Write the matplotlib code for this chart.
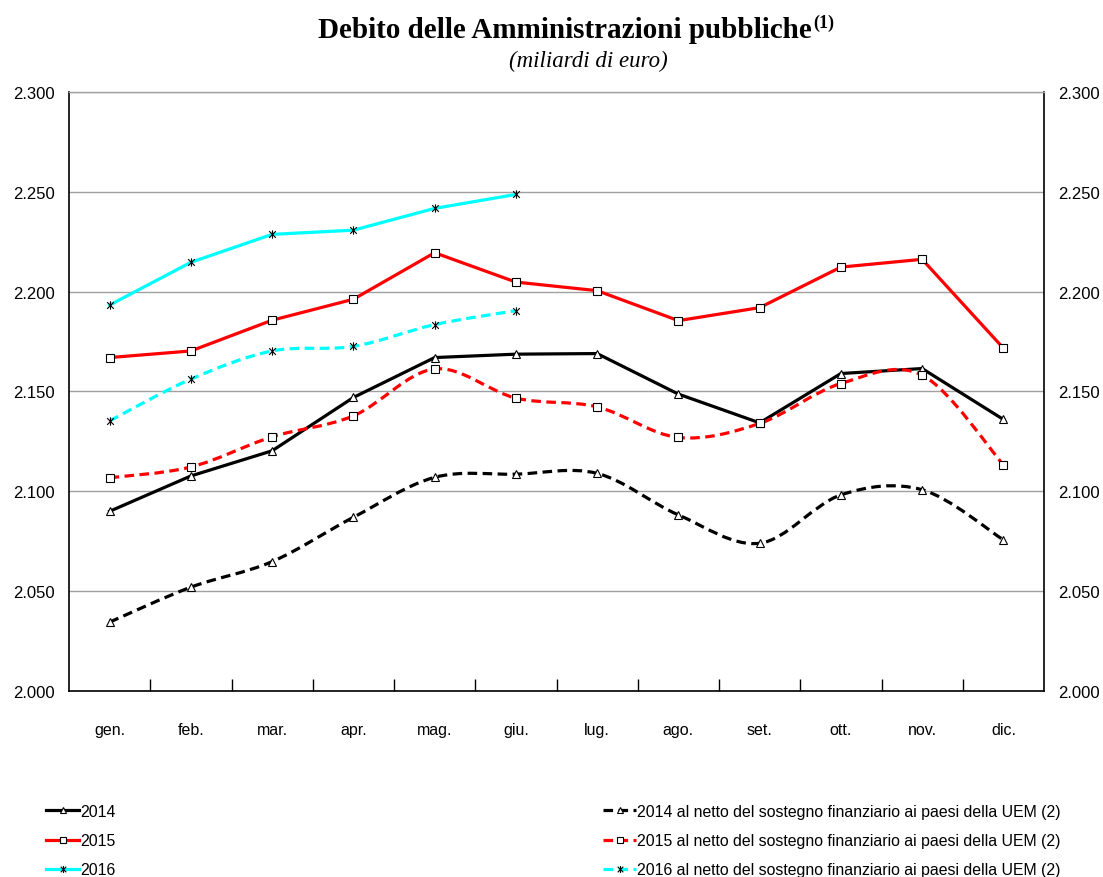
import numpy as np
import matplotlib.pyplot as plt
from matplotlib.path import Path
from matplotlib.patches import PathPatch
from matplotlib.lines import Line2D

plt.rcParams['font.family'] = ['Liberation Sans', 'DejaVu Sans']

# Months and values (billions of euro)
months = ["gen.", "feb.", "mar.", "apr.", "mag.", "giu.",
          "lug.", "ago.", "set.", "ott.", "nov.", "dic."]

debt_2014 = [2090, 2107.7, 2120.3, 2147, 2167, 2168.7,
             2169, 2148.7, 2134.3, 2159, 2161.5, 2136]
debt_2015 = [2167, 2170.3, 2185.7, 2196.2, 2219.5, 2204.8,
             2200.5, 2185.5, 2192, 2212.3, 2216.2, 2171.7]
debt_2016 = [2193.3, 2214.7, 2228.7, 2230.8, 2241.7, 2248.7]

net_2014 = [2034.5, 2052, 2064.8, 2087, 2107, 2108.6,
            2109, 2088.2, 2074, 2098.2, 2100.8, 2075.7]
net_2015 = [2106.8, 2112.2, 2127.3, 2137.8, 2161.3, 2146.7,
            2142.3, 2127, 2134, 2154, 2158.2, 2113.3]
net_2016 = [2135.3, 2156.2, 2170.3, 2172.6, 2183.5, 2190.5]

labels_left = ["2014", "2015", "2016"]
labels_right = [y + " al netto del sostegno finanziario ai paesi della UEM (2)"
                for y in labels_left]

yticks = [2000, 2050, 2100, 2150, 2200, 2250, 2300]
ytick_labels = ["2.000", "2.050", "2.100", "2.150", "2.200", "2.250", "2.300"]

# Excel-like star marker (x with a vertical bar)
star = Path([(0, -1), (0, 1), (-0.8, -0.8), (0.8, 0.8), (-0.8, 0.8), (0.8, -0.8)],
            [Path.MOVETO, Path.LINETO, Path.MOVETO, Path.LINETO, Path.MOVETO, Path.LINETO])


def smooth_path(x, y):
    # Bezier path through the points, like Excel's "smoothed line"
    x = np.asarray(x, float)
    y = np.asarray(y, float)
    n = len(x)
    verts = [(x[0], y[0])]
    codes = [Path.MOVETO]
    for i in range(n - 1):
        x0, y0 = (x[i - 1], y[i - 1]) if i > 0 else (x[i], y[i])
        x3, y3 = (x[i + 2], y[i + 2]) if i + 2 < n else (x[i + 1], y[i + 1])
        c1 = (x[i] + (x[i + 1] - x0) / 6, y[i] + (y[i + 1] - y0) / 6)
        c2 = (x[i + 1] - (x3 - x[i]) / 6, y[i + 1] - (y3 - y[i]) / 6)
        verts += [c1, c2, (x[i + 1], y[i + 1])]
        codes += [Path.CURVE4] * 3
    return Path(verts, codes)


fig = plt.figure(figsize=(11.03, 8.78), dpi=100)
ax = fig.add_axes([69 / 1103, 186 / 878, 975 / 1103, 599 / 878])

x = np.arange(len(months))
lw = 2.3
dash = (0, (3, 1.7))

series = [
    (debt_2014, net_2014, "black", "^", 5.5),
    (debt_2015, net_2015, "red", "s", 5.5),
    (debt_2016, net_2016, "cyan", star, 6),
]

handles_l, handles_r = [], []
for debt, net, col, mk, ms in series:
    xs = x[:len(debt)]
    mfc = "none" if mk is star else "white"
    ax.plot(xs, debt, color=col, lw=lw, zorder=3)
    ax.plot(xs, debt, ls="none", marker=mk, ms=ms, mfc=mfc, mec="black",
            mew=0.8, zorder=5)
    xn = x[:len(net)]
    ax.add_patch(PathPatch(smooth_path(xn, net), facecolor="none",
                           edgecolor=col, lw=lw, linestyle=dash, zorder=3))
    ax.plot(xn, net, ls="none", marker=mk, ms=ms, mfc=mfc, mec="black",
            mew=0.8, zorder=5)
    handles_l.append(Line2D([], [], color=col, lw=lw, marker=mk, ms=ms - 1,
                            mfc=mfc, mec="black", mew=0.8))
    handles_r.append(Line2D([], [], color=col, lw=lw, ls=dash, marker=mk,
                            ms=ms - 1, mfc=mfc, mec="black", mew=0.8))

ax.set_xlim(-0.5, 11.5)
ax.set_ylim(2000, 2300)
ax.set_yticks(yticks)
ax.set_yticklabels(ytick_labels)
ax.tick_params(axis="y", length=0, labelsize=12, pad=10,
               labelright=True, right=False)
ax.yaxis.grid(True, color="#a0a0a0", lw=1)
ax.set_axisbelow(True)

ax.set_xticks(x)
ax.set_xticklabels(months, fontsize=11.5)
ax.tick_params(axis="x", length=0, pad=22)
ax.set_xticks(x[:-1] + 0.5, minor=True)
ax.tick_params(axis="x", which="minor", direction="in", length=9,
               width=1, color="black")

for s in ["left", "right", "bottom"]:
    ax.spines[s].set_color("black")
    ax.spines[s].set_linewidth(1.2)
ax.spines["top"].set_color("#a0a0a0")
ax.spines["top"].set_linewidth(1)

# Title with superscript
title = fig.text(565 / 1103, 1 - 30 / 878, "Debito delle Amministrazioni pubbliche",
                 ha="center", va="center", fontsize=21, fontweight="bold",
                 family="Liberation Serif")
fig.canvas.draw()
bb = title.get_window_extent(fig.canvas.get_renderer())
fig.text(bb.x1 / 1103 + 0.001, 1 - 23 / 878, "(1)", ha="left", va="center",
         fontsize=13, fontweight="bold", family="Liberation Serif")
fig.text(588 / 1103, 1 - 61 / 878, "(miliardi di euro)", ha="center",
         va="center", fontsize=16.5, style="italic", family="Liberation Serif")

leg_kw = dict(frameon=False, fontsize=11.4, handlelength=2.1, handletextpad=0.05,
              labelspacing=0.9, borderaxespad=0, borderpad=0)
fig.legend(handles_l, labels_left, loc="upper left",
           bbox_to_anchor=(46 / 1103, 1 - 805 / 878), **leg_kw)
fig.legend(handles_r, labels_right, loc="upper left",
           bbox_to_anchor=(603 / 1103, 1 - 805 / 878), **leg_kw)

plt.savefig("out.png", dpi=100)
